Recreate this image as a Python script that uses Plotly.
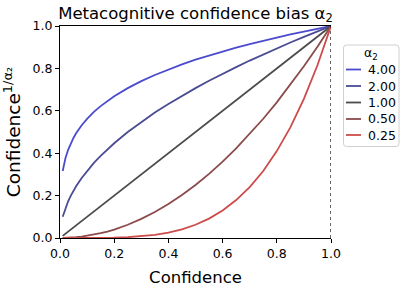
import plotly.graph_objects as go

confidence = [0.01, 0.02, 0.03, 0.04, 0.05, 0.06, 0.08, 0.1, 0.125, 0.15, 0.175, 0.2, 0.25, 0.3,
              0.35, 0.4, 0.45, 0.5, 0.55, 0.6, 0.65, 0.7, 0.75, 0.8, 0.85, 0.9, 0.95, 1.0]
alpha_labels = ["4.00", "2.00", "1.00", "0.50", "0.25"]
curve_a400 = [0.316, 0.376, 0.416, 0.447, 0.473, 0.495, 0.532, 0.562, 0.595, 0.622, 0.647, 0.669, 0.707, 0.740,
              0.769, 0.795, 0.819, 0.841, 0.861, 0.880, 0.898, 0.915, 0.931, 0.946, 0.960, 0.974, 0.987, 1.0]
curve_a200 = [0.10, 0.141, 0.173, 0.20, 0.224, 0.245, 0.283, 0.316, 0.354, 0.387, 0.418, 0.447, 0.50, 0.548,
              0.592, 0.632, 0.671, 0.707, 0.742, 0.775, 0.806, 0.837, 0.866, 0.894, 0.922, 0.949, 0.975, 1.0]
curve_a100 = [0.01, 0.02, 0.03, 0.04, 0.05, 0.06, 0.08, 0.1, 0.125, 0.15, 0.175, 0.2, 0.25, 0.3,
              0.35, 0.4, 0.45, 0.5, 0.55, 0.6, 0.65, 0.7, 0.75, 0.8, 0.85, 0.9, 0.95, 1.0]
curve_a050 = [0.0001, 0.0004, 0.0009, 0.0016, 0.0025, 0.0036, 0.0064, 0.01, 0.0156, 0.0225, 0.0306, 0.04, 0.0625, 0.09,
              0.1225, 0.16, 0.2025, 0.25, 0.3025, 0.36, 0.4225, 0.49, 0.5625, 0.64, 0.7225, 0.81, 0.9025, 1.0]
curve_a025 = [0.0, 0.0, 0.0, 0.0, 0.0, 0.0, 0.0, 0.0001, 0.0002, 0.0005, 0.0009, 0.0016, 0.0039, 0.0081,
              0.015, 0.0256, 0.041, 0.0625, 0.0915, 0.13, 0.179, 0.24, 0.316, 0.41, 0.522, 0.656, 0.815, 1.0]
curves = [curve_a400, curve_a200, curve_a100, curve_a050, curve_a025]
colors = ["#4b4bd0", "#4b4b94", "#4b4b4b", "#8c4b4b", "#cd4b4b"]

W, H = 402, 287
ml, mr, mt, mb = 60, 71, 26, 49
pw, ph = W - ml - mr, H - mt - mb

fig = go.Figure()
for ys, c, lab in zip(curves, colors, alpha_labels):
    fig.add_trace(go.Scatter(x=confidence, y=ys, mode="lines", name=lab,
                             line=dict(color=c, width=1.8),
                             showlegend=False, hoverinfo="skip"))

font = "DejaVu Sans"
fig.update_layout(
    width=W, height=H,
    margin=dict(l=ml, r=mr, t=mt, b=mb),
    paper_bgcolor="white", plot_bgcolor="white",
    font=dict(family=font, color="black", size=12.5),
    title=dict(text="Metacognitive confidence bias α<sub>2</sub>", x=(ml + pw / 2) / W, xanchor="center",
               y=1 - 13 / H, yanchor="middle", font=dict(size=16.5, family=font)),
    xaxis=dict(range=[0, 1], tickvals=[0, 0.2, 0.4, 0.6, 0.8, 1.0], tickformat=".1f",
               showgrid=False, zeroline=False, showline=True, linecolor="black", linewidth=1.2,
               mirror=True, ticks="outside", ticklen=4, tickcolor="black", automargin=False,
               title=dict(text="Confidence", font=dict(size=16.5))),
    yaxis=dict(range=[0, 1], tickvals=[0, 0.2, 0.4, 0.6, 0.8, 1.0], tickformat=".1f",
               showgrid=False, zeroline=False, showline=True, linecolor="black", linewidth=1.2,
               ticks="outside", ticklen=4, tickcolor="black", automargin=False,
               title=dict(text="Confidence<sup>1/α₂</sup>", font=dict(size=18.5))),
)

# dotted vertical reference at confidence = 1
fig.add_shape(type="line", xref="x", yref="paper", x0=1, x1=1, y0=0, y1=1,
              line=dict(color="black", width=1.2, dash="dot"))

# custom legend in pixel-based paper coordinates
def px(x):
    return (x - ml) / pw

def py(y):
    return (H - mb - y) / ph

bx0, bx1, by0, by1 = 343.5, 399, 45, 146.5
r = 3
path = (f"M {px(bx0 + r)},{py(by0)} L {px(bx1 - r)},{py(by0)} Q {px(bx1)},{py(by0)} {px(bx1)},{py(by0 + r)} "
        f"L {px(bx1)},{py(by1 - r)} Q {px(bx1)},{py(by1)} {px(bx1 - r)},{py(by1)} "
        f"L {px(bx0 + r)},{py(by1)} Q {px(bx0)},{py(by1)} {px(bx0)},{py(by1 - r)} "
        f"L {px(bx0)},{py(by0 + r)} Q {px(bx0)},{py(by0)} {px(bx0 + r)},{py(by0)} Z")
fig.add_shape(type="path", xref="paper", yref="paper", path=path,
              line=dict(color="#d0d0d0", width=1), fillcolor="rgba(255,255,255,0.8)")
fig.add_annotation(xref="paper", yref="paper", x=px((bx0 + bx1) / 2), y=py(54), text="α<sub>2</sub>",
                   showarrow=False, xanchor="center", yanchor="middle", font=dict(size=12.5))
entry_y = [69.5, 86, 102.5, 119, 135]
for ey, c, lab in zip(entry_y, colors, alpha_labels):
    fig.add_shape(type="line", xref="paper", yref="paper", x0=px(346), x1=px(361), y0=py(ey), y1=py(ey),
                  line=dict(color=c, width=1.8))
    fig.add_annotation(xref="paper", yref="paper", x=px(366), y=py(ey), text=lab, showarrow=False,
                       xanchor="left", yanchor="middle", font=dict(size=12.5))

fig.write_html("out.html")
